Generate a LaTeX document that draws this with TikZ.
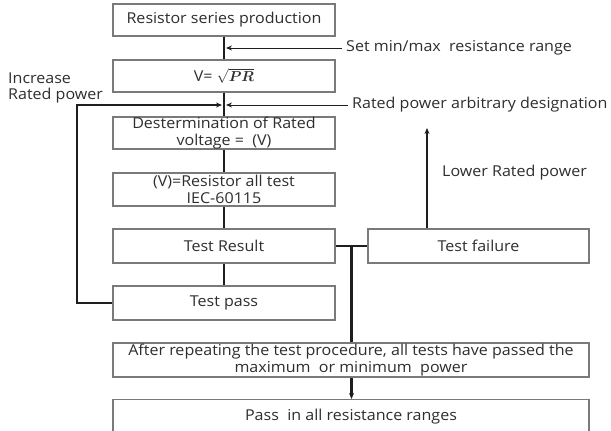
\documentclass[tikz,border=0pt]{standalone}
\usepackage{amsmath}
\usepackage{fontspec}
\setmainfont{Open Sans}[FakeStretch=1.07]
\usetikzlibrary{arrows.meta,calc}
\definecolor{txt}{HTML}{2E2E2E}
\definecolor{bord}{HTML}{7A7A7A}
\definecolor{ln}{HTML}{1E1E1E}
\begin{document}
\begin{tikzpicture}[x=1pt,y=-1pt,
  box/.style={draw=bord,line width=1.3pt,fill=white,text=txt,align=center,inner sep=0pt,font=\fontsize{15}{16.5}\selectfont},
  lbl/.style={text=txt,inner sep=0pt,font=\fontsize{15}{16.5}\selectfont},
  main/.style={draw=ln,line width=2.2pt},
  thin/.style={draw=ln,line width=0.9pt},
  tip/.style={-{Stealth[length=6pt,width=5pt]}}
]
\useasboundingbox (0,0) rectangle (611,431);
\clip (0,0) rectangle (611,431);
\node[box,minimum width=222pt,minimum height=32pt] (b1) at (224,20) {Resistor series production};
\node[box,minimum width=222pt,minimum height=32pt] (b2) at (224,76) {V= $\sqrt{\boldsymbol{PR}}$};
\node[box,minimum width=222pt,minimum height=32pt] (b3) at (224,133) {Destermination of Rated\\voltage =\ \ (V)};
\node[box,minimum width=222pt,minimum height=33pt] (b4) at (224,189.5) {(V)=Resistor all test\\IEC-60115};
\node[box,minimum width=222pt,minimum height=34pt] (b5) at (224,246) {Test Result};
\node[box,minimum width=221pt,minimum height=34pt] (fail) at (478.5,246) {Test failure};
\node[box,minimum width=222pt,minimum height=34pt] (pass) at (224,303) {Test pass};
\node[box,minimum width=476pt,minimum height=34pt] (after) at (351,360) {After repeating the test procedure, all tests have passed the\\maximum\ \ or minimum\ \ power};
\node[box,minimum width=476pt,minimum height=42pt,anchor=north] (all) at (351,399) {};
\node[lbl] (alltxt) at (351,417) {Pass\ \ in all resistance ranges};

\node[lbl,anchor=west] (t1) at (346,48) {Set min/max\ \ resistance range};
\node[lbl,anchor=west] (t2) at (352,105) {Rated power arbitrary designation};
\node[lbl,anchor=west] (t3) at (442,173) {Lower Rated power};
\node[lbl,anchor=west,align=left] (t4) at (8,88) {Increase\\Rated power};

% main vertical chain
\draw[main] (b1.south) -- (b2.north);
\draw[main] (b2.south) -- (b3.north);
\draw[main] (b3.south) -- (b4.north);
\draw[main] (b4.south) -- (b5.north);
\draw[main] (b5.south) -- (pass.north);
% side arrows
\draw[thin,tip] ([xshift=-4pt]t1.west) -- ([xshift=2pt]t1.west -| b1.south);
\coordinate (j2) at (224,105);
\draw[thin,tip] ([xshift=-4pt]t2.west) -- ([xshift=2pt]j2);
% loop
\draw[main,tip] (pass.west) -- ++(-35,0) |- ([xshift=-2pt]j2);
% test result / failure
\coordinate (jn) at ($(b5.east)!0.5!(fail.west)$);
\draw[main] (b5.east) -- (fail.west);
\draw[main] (jn) -- (jn |- after.north);
\draw[main,tip] (jn |- after.south) -- (jn |- all.north);
\coordinate (up) at (427,128);
\draw[main,tip] (up |- fail.north) -- (up);
\end{tikzpicture}
\end{document}
